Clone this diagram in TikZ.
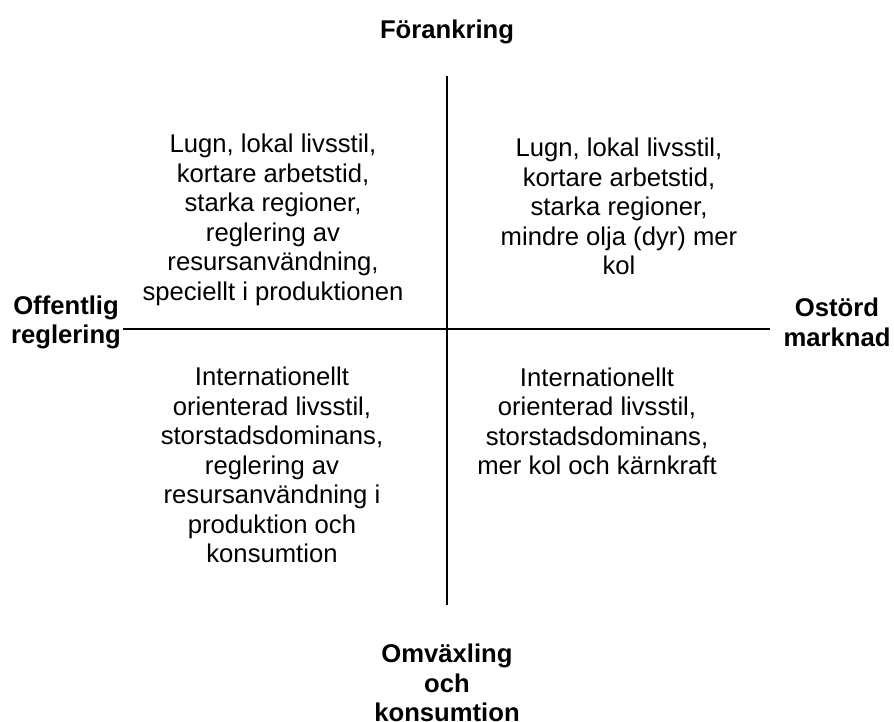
\documentclass[tikz,border=0pt]{standalone}
\usepackage{fontspec}
\setmainfont{Liberation Sans}
\tikzset{
  quad/.style={
    align=center, inner sep=0pt,
    font=\fontsize{14.6}{16.8}\selectfont
  },
  axislabel/.style={
    align=center, inner sep=0pt,
    font=\fontsize{14.6}{16.8}\selectfont\bfseries
  },
  axis/.style={line width=0.8pt}
}
\begin{document}
\begin{tikzpicture}[x=0.02cm, y=-0.02cm]
\useasboundingbox (0,0) rectangle (894,722);
% axes
\coordinate (top) at (447,76);
\coordinate (bottom) at (447,605);
\coordinate (left) at (123,329);
\coordinate (right) at (770,329);
\draw[axis] (top) -- (bottom);
\draw[axis] (left) -- (right);
% axis labels
\node[axislabel] (north) at (447,32) {Förankring};
\node[axislabel] (west) at (66,322.5) {Offentlig\\reglering};
\node[axislabel] (east) at (837,322.5) {Ostörd\\marknad};
\node[axislabel] (south) at (447,683) {Omväxling\\och\\konsumtion};
% quadrants
\node[quad] (nw) at (273,220) {Lugn, lokal livsstil,\\kortare arbetstid,\\starka regioner,\\reglering av\\resursanvändning,\\speciellt i produktionen};
\node[quad] (ne) at (619,206.5) {Lugn, lokal livsstil,\\kortare arbetstid,\\starka regioner,\\mindre olja (dyr) mer\\kol};
\node[quad] (sw) at (272,465) {Internationellt\\orienterad livsstil,\\storstadsdominans,\\reglering av\\resursanvändning i\\produktion och\\konsumtion};
\node[quad] (se) at (597,421.5) {Internationellt\\orienterad livsstil,\\storstadsdominans,\\mer kol och kärnkraft};
\end{tikzpicture}
\end{document}
